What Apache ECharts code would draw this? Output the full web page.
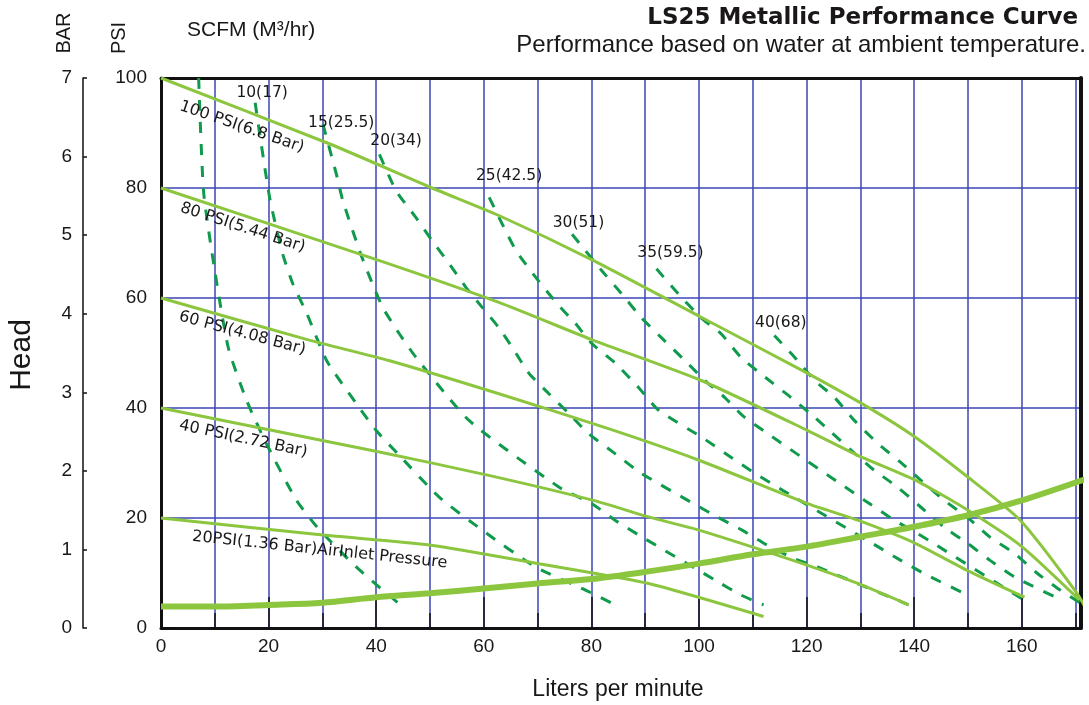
<!DOCTYPE html>
<html><head><meta charset="utf-8">
<script src="https://cdn.jsdelivr.net/npm/echarts@6/dist/echarts.min.js"></script>
<style>html,body{margin:0;padding:0;background:#fff}#c{width:1089px;height:705px}</style>
</head><body><div id="c"></div>
<script>
// ---- axis ranges / ticks ----
const xMax = 171;
const xLabelTicks = [0, 20, 40, 60, 80, 100, 120, 140, 160];
const psiRange = [0, 100];
const barRange = [0, 7];

// ---- air inlet pressure curves (LPM, PSI) ----
const pressureNames = ['100 PSI(6.8 Bar)', '80 PSI(5.44 Bar)', '60 PSI(4.08 Bar)', '40 PSI(2.72 Bar)', '20PSI(1.36 Bar)AirInlet Pressure'];
const psi100 = [[0,100],[31.4,88],[50.4,80],[62.8,75],[80.4,66.8],[100.4,56.5],[120.2,46.3],[131.3,40.2],[140.2,34.7],[149.9,27.5],[159.7,19.6],[170.2,6.4],[172.5,2.5]];
const psi80 = [[0,80],[40.6,66.8],[62.8,59.2],[80.4,52.3],[100.4,45],[120.2,35.9],[129.5,31.4],[140.2,26.9],[150,21.4],[160,14.8],[170.7,5.1]];
const psi60 = [[0,60],[27.7,52.3],[42.5,48.6],[62.8,42.6],[83.3,36.2],[100,30.5],[120.2,22.6],[129.5,19.6],[140.2,15.4],[150,10.4],[160.5,5.6]];
const psi40 = [[0,40],[40.6,32],[60.7,27.8],[80.4,23.2],[90.6,20.2],[100,17.8],[120.2,11.4],[129.5,8.1],[139,4.2]];
const psi20 = [[0,20],[30.1,16.9],[49.9,15.1],[70.2,11.7],[90.6,8.1],[112,2.1]];
// label anchors (data coords, centre of text)
const pressureLabelAt = [[15,91.1],[15.2,72.8],[15.1,53.6],[15.3,34.4],[29.5,14.2]];

// ---- air consumption (thick) ----
const airCurve = [[0,3.9],[10,3.9],[20,4.2],[30,4.6],[40,5.6],[50,6.3],[60,7.2],[70,8.1],[80,8.9],[90,10.2],[100,11.7],[110,13.4],[120,14.8],[130,16.6],[140,18.4],[150,20.5],[160,23.2],[172.5,27.3]];

// ---- SCFM (m3/hr) consumption curves ----
const scfmNames = ['', '10(17)', '15(25.5)', '20(34)', '25(42.5)', '30(51)', '35(59.5)', '40(68)'];
const scfm5 = [[7,100],[7.9,79.5],[9.7,66.8],[12.5,51],[15.9,41.4],[19.6,33.5],[25.2,23.2],[29.5,17.8],[36.3,11.1],[41.2,6.9],[44.9,3.9]];
const scfm10 = [[17.5,95.5],[20.2,78.2],[22.6,68.1],[24.5,62.6],[27.1,57.2],[30.8,48.6],[36.3,40.8],[40,35.9],[44,31.7],[51.7,23.8],[59.7,17.8],[69.6,11.1],[78.9,6.9],[84.4,4.2]];
const scfm15 = [[30.1,91.6],[32.6,82.5],[33.8,77.7],[36.9,68.6],[38.8,63.8],[41.2,58.3],[44.3,53.5],[47.4,49.2],[57.3,37.7],[74,25.6],[80.1,22.6],[84.4,19.6],[89.3,16.6],[103,8.7],[107.8,6],[112,4.2]];
const scfm20 = [[40.6,86.1],[43.7,79.5],[47.4,74.6],[50.4,70.4],[53.6,66.2],[56.7,61.9],[59.7,58.3],[62.8,54.6],[65.3,51],[68.4,46.3],[72.1,42.6],[75.8,39],[79.4,35.4],[84.4,31.7],[89.3,28.1],[103,20.4],[108,17.8],[112.8,15],[117.5,12.7],[122,11.1],[139,4.2]];
const scfm25 = [[61,78.3],[63.4,73.5],[66,68.6],[69.7,63.7],[73.6,59],[77,55.4],[80.1,51.7],[84.5,48.1],[88.8,43.7],[92.5,39.6],[100.8,34.5],[106,31],[110.6,28],[115.6,25],[133.4,14.7],[137.5,12.3],[142.4,9.6],[149.3,6.3]];
const scfm30 = [[76.4,71.6],[78.9,68.6],[81.9,65],[85.6,60.8],[89.3,56.4],[93,52.8],[97.4,48.6],[101.1,45],[104.8,41.9],[108.5,38.3],[130.8,23.2],[136.3,19.6],[140.6,17.2],[160.2,5.2]];
const scfm35 = [[92.1,65.3],[96.1,60.8],[100.4,56.4],[104.1,53.5],[107.8,49.2],[112.3,45.6],[117.1,41.9],[121.5,38.3],[131.9,29.2],[136.9,25.6],[141.2,22],[145.6,18.3],[149.9,15.4],[154.1,12.3],[158.6,9.3],[166.5,5.5]];
const scfm40 = [[114,53.2],[117.8,49.2],[121.5,45],[125.2,41.9],[128.9,37.7],[133.2,33.6],[137.5,30.1],[141.2,26.9],[145.6,23.2],[149.9,20.1],[154.1,16.5],[158.6,13.6],[162.8,10],[167.1,6.9],[171,4.5]];
const scfmLabelAt = [null,[18.8,97.3],[33.5,91.9],[43.7,88.6],[64.7,82.2],[77.6,73.7],[94.7,68.1],[115.2,55.5]];

// ---- styles ----
const pressureLabelAngle = [-19, -18, -15, -12, -6];
const SOLID = '#8cc63f', DASH = '#0f9a4c', GRIDC = '#3d45b5', INK = '#1a1718';

const pressureSets = [psi100, psi80, psi60, psi40, psi20];
const scfmSets = [scfm5, scfm10, scfm15, scfm20, scfm25, scfm30, scfm35, scfm40];

const series = [];
scfmSets.forEach((d, i) => series.push({
  type: 'line', name: 'scfm' + i, data: d, showSymbol: false, smooth: 0.2,
  lineStyle: { color: DASH, width: 3, type: [11, 11] }, z: 2, silent: true
}));
pressureSets.forEach((d, i) => series.push({
  type: 'line', name: pressureNames[i], data: d, showSymbol: false, smooth: 0.2,
  lineStyle: { color: SOLID, width: 3 }, z: 3, silent: true
}));
series.push({
  type: 'line', name: 'air', data: airCurve, showSymbol: false, smooth: 0.3,
  lineStyle: { color: SOLID, width: 6 }, z: 4, silent: true
});
const labelBase = { show: true, position: 'inside', align: 'center', verticalAlign: 'middle', color: INK, opacity: 1, fontFamily: 'DejaVu Sans' };
series.push({
  type: 'scatter', symbolSize: 0, z: 6, silent: true, itemStyle: { opacity: 1 },
  data: pressureLabelAt.map((p, i) => ({ value: p, label: { rotate: pressureLabelAngle[i], formatter: pressureNames[i] } })),
  label: Object.assign({ fontSize: 16 }, labelBase)
});
series.push({
  type: 'scatter', symbolSize: 0, z: 6, silent: true, itemStyle: { opacity: 1 },
  data: scfmLabelAt.map((p, i) => p ? ({ value: p, label: { formatter: scfmNames[i] } }) : null).filter(Boolean),
  label: Object.assign({ fontSize: 15.5 }, labelBase)
});

const tickFont = { fontSize: 19, color: INK, fontFamily: 'Liberation Sans' };
const hidden = { axisLabel: { show: false }, splitLine: { show: false }, axisTick: { show: false } };

const chart = echarts.init(document.getElementById('c'), null, { renderer: 'canvas' });
chart.setOption({
  animation: false,
  backgroundColor: '#fff',
  grid: { left: 161, right: 8, top: 78, bottom: 77, show: false, containLabel: false, outerBoundsMode: 'none' },
  xAxis: [{
    type: 'value', min: 0, max: xMax, interval: 10,
    axisLine: { show: true, onZero: false, lineStyle: { color: '#111', width: 3 } },
    axisTick: { show: true, inside: true, length: 15, lineStyle: { color: '#111', width: 1.5 } },
    axisLabel: Object.assign({ margin: 9, formatter: v => xLabelTicks.indexOf(v) >= 0 ? String(v) : '' }, tickFont),
    splitLine: { show: true, lineStyle: { color: GRIDC, width: 1.5 } }
  }, {
    type: 'value', min: 0, max: xMax, interval: 20, position: 'bottom',
    axisLine: { show: false }, axisLabel: { show: false }, splitLine: { show: false },
    axisTick: { show: true, inside: true, length: 31, lineStyle: { color: '#111', width: 1.5 } }
  }, Object.assign({
    type: 'value', min: 0, max: xMax, position: 'top',
    axisLine: { show: true, onZero: false, lineStyle: { color: '#111', width: 3 } }
  }, hidden)],
  yAxis: [{
    type: 'value', min: psiRange[0], max: psiRange[1], interval: 20, position: 'left',
    axisLine: { show: true, onZero: false, lineStyle: { color: '#111', width: 3 } },
    axisTick: { show: false },
    axisLabel: Object.assign({ margin: 14 }, tickFont),
    splitLine: { show: true, lineStyle: { color: GRIDC, width: 1.5 } }
  }, {
    type: 'value', min: barRange[0], max: barRange[1], interval: 1, position: 'left', offset: 78,
    axisLine: { show: true, onZero: false, lineStyle: { color: '#111', width: 1.5 } },
    axisTick: { show: true, inside: true, length: 4, lineStyle: { color: '#111', width: 1.5 } },
    axisLabel: Object.assign({ margin: 11 }, tickFont),
    splitLine: { show: false }
  }, {
    type: 'value', min: barRange[0], max: barRange[1], interval: 7, position: 'left', offset: 78,
    axisLine: { show: false }, axisLabel: { show: false }, splitLine: { show: false },
    axisTick: { show: true, inside: true, length: 13, lineStyle: { color: '#111', width: 1.5 } }
  }, Object.assign({
    type: 'value', min: psiRange[0], max: psiRange[1], position: 'right',
    axisLine: { show: true, onZero: false, lineStyle: { color: '#111', width: 4 } }
  }, hidden)],
  graphic: [
    { type: 'text', x: 64, y: 33, rotation: Math.PI / 2, style: { text: 'BAR', fontSize: 20, fontFamily: 'Liberation Sans', fill: INK, align: 'center', verticalAlign: 'middle' } },
    { type: 'text', x: 119, y: 38, rotation: Math.PI / 2, style: { text: 'PSI', fontSize: 20, fontFamily: 'Liberation Sans', fill: INK, align: 'center', verticalAlign: 'middle' } },
    { type: 'text', x: 187, y: 30, style: { text: 'SCFM (M³/hr)', fontSize: 21, fontFamily: 'Liberation Sans', fill: INK, align: 'left', verticalAlign: 'middle' } },
    { type: 'text', x: 1078, y: 18, style: { text: 'LS25 Metallic Performance Curve', fontSize: 23, fontWeight: 'bold', fontFamily: 'DejaVu Sans', fill: INK, align: 'right', verticalAlign: 'middle' } },
    { type: 'text', x: 1086, y: 45, style: { text: 'Performance based on water at ambient temperature.', fontSize: 24, fontFamily: 'Liberation Sans', fill: INK, align: 'right', verticalAlign: 'middle' } },
    { type: 'text', x: 22, y: 355, rotation: Math.PI / 2, style: { text: 'Head', fontSize: 30, fontFamily: 'Liberation Sans', fill: INK, align: 'center', verticalAlign: 'middle' } },
    { type: 'text', x: 618, y: 690, style: { text: 'Liters per minute', fontSize: 23, fontFamily: 'Liberation Sans', fill: INK, align: 'center', verticalAlign: 'middle' } }
  ],
  series: series
});
</script></body></html>
